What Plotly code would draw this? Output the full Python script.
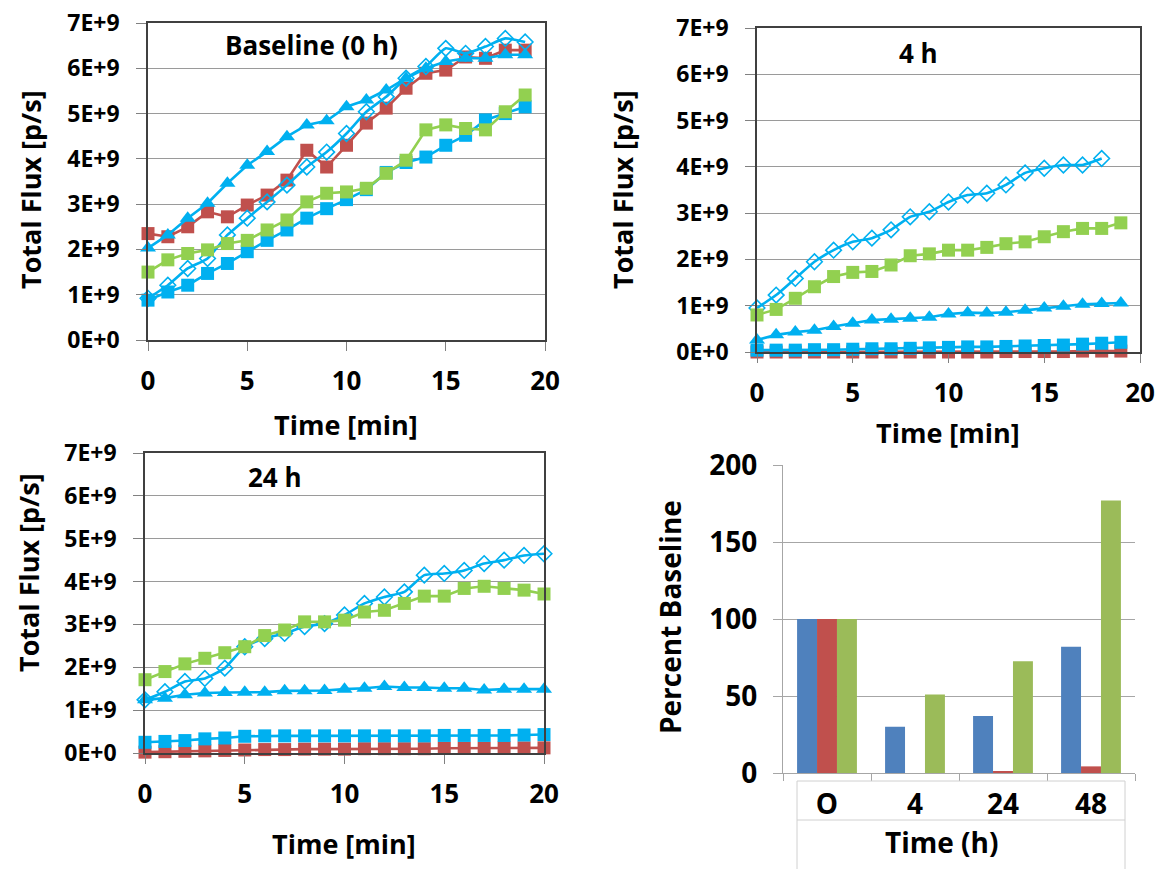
import numpy as np
import plotly.graph_objects as go

W, H = 1167, 869
FONT = "Open Sans"

# ---------------- data (flux in units of 1E+9 p/s) ----------------
minutes_20 = list(range(20))
minutes_19 = list(range(19))
minutes_21 = list(range(21))

tl_diamond = [0.92, 1.21, 1.58, 1.80, 2.32, 2.69, 3.05, 3.42, 3.82, 4.15, 4.56, 5.04, 5.37, 5.78, 6.04, 6.44, 6.33, 6.48, 6.66, 6.58]
tl_triangle = [2.03, 2.32, 2.69, 3.02, 3.46, 3.86, 4.16, 4.49, 4.75, 4.84, 5.15, 5.30, 5.52, 5.78, 6.00, 6.15, 6.22, 6.22, 6.30, 6.30]
tl_red = [2.35, 2.28, 2.50, 2.83, 2.72, 2.98, 3.20, 3.53, 4.19, 3.82, 4.30, 4.79, 5.12, 5.56, 5.89, 5.96, 6.25, 6.22, 6.40, 6.40]
tl_green = [1.50, 1.77, 1.91, 1.99, 2.13, 2.20, 2.43, 2.65, 3.05, 3.24, 3.27, 3.35, 3.68, 3.97, 4.64, 4.75, 4.67, 4.64, 5.04, 5.41]
tl_blue = [0.88, 1.06, 1.21, 1.47, 1.69, 1.95, 2.20, 2.43, 2.69, 2.90, 3.10, 3.32, 3.70, 3.92, 4.04, 4.30, 4.52, 4.86, 5.00, 5.15]

tr_diamond = [0.95, 1.23, 1.59, 1.95, 2.20, 2.38, 2.46, 2.64, 2.92, 3.03, 3.24, 3.39, 3.43, 3.61, 3.87, 3.97, 4.04, 4.04, 4.18]
tr_green = [0.80, 0.92, 1.16, 1.41, 1.63, 1.72, 1.74, 1.88, 2.08, 2.12, 2.20, 2.20, 2.26, 2.34, 2.38, 2.49, 2.60, 2.67, 2.67, 2.79]
tr_triangle = [0.26, 0.37, 0.43, 0.47, 0.55, 0.62, 0.69, 0.71, 0.73, 0.75, 0.82, 0.85, 0.84, 0.86, 0.90, 0.95, 0.99, 1.03, 1.05, 1.06]
tr_blue = [0.04, 0.04, 0.04, 0.05, 0.05, 0.06, 0.07, 0.07, 0.08, 0.09, 0.10, 0.11, 0.11, 0.12, 0.13, 0.14, 0.15, 0.17, 0.19, 0.21]
tr_red = [0.00, 0.00, 0.00, 0.00, 0.00, 0.00, 0.00, 0.00, 0.00, 0.00, 0.00, 0.00, 0.00, 0.01, 0.01, 0.01, 0.01, 0.02, 0.02, 0.02]

bl_diamond = [1.24, 1.43, 1.67, 1.74, 1.98, 2.48, 2.67, 2.79, 2.95, 3.02, 3.22, 3.49, 3.64, 3.76, 4.15, 4.19, 4.26, 4.42, 4.50, 4.61, 4.65]
bl_green = [1.71, 1.90, 2.08, 2.21, 2.34, 2.48, 2.74, 2.87, 3.06, 3.06, 3.10, 3.29, 3.33, 3.49, 3.66, 3.66, 3.84, 3.89, 3.84, 3.80, 3.71]
bl_triangle = [1.24, 1.28, 1.36, 1.40, 1.41, 1.42, 1.42, 1.45, 1.45, 1.46, 1.49, 1.51, 1.55, 1.53, 1.53, 1.51, 1.51, 1.47, 1.49, 1.49, 1.49]
bl_blue = [0.25, 0.27, 0.29, 0.33, 0.35, 0.39, 0.40, 0.40, 0.40, 0.40, 0.40, 0.40, 0.40, 0.40, 0.40, 0.41, 0.41, 0.41, 0.41, 0.42, 0.43]
bl_red = [0.02, 0.03, 0.04, 0.05, 0.06, 0.07, 0.08, 0.08, 0.09, 0.09, 0.09, 0.10, 0.10, 0.10, 0.10, 0.11, 0.11, 0.11, 0.12, 0.12, 0.12]

flux_tick_vals = [0, 1, 2, 3, 4, 5, 6, 7]
flux_tick_text = ["0E+0", "1E+9", "2E+9", "3E+9", "4E+9", "5E+9", "6E+9", "7E+9"]
min_tick_vals = [0, 5, 10, 15, 20]

bar_categories = ["O", "4", "24", "48"]
bar_blue = [100, 30, 37, 82]
bar_red = [100, 0, 1.1, 4.3]
bar_green = [100, 51, 72.5, 177]
pct_tick_vals = [0, 50, 100, 150, 200]

panel_titles = ["Baseline (0 h)", "4 h", "24 h"]

CYAN = "#00B0F0"
RED = "#C0504D"
LGREEN = "#92D050"
BAR_BLUE = "#4F81BD"
BAR_RED = "#C0504D"
BAR_GREEN = "#9BBB59"

SCALE = 1e9


def xd(a, b):
    return [a / W, b / W]


def yd(top, bottom):
    return [1 - bottom / H, 1 - top / H]


fig = go.Figure()


def add_line_panel(n, xs_full, xs_diamond, diamond, triangle, blue, red, green):
    xa = "x" if n == 1 else f"x{n}"
    ya = "y" if n == 1 else f"y{n}"
    common = dict(xaxis=xa, yaxis=ya, mode="lines+markers", cliponaxis=False, showlegend=False)
    fig.add_trace(go.Scatter(x=xs_full, y=np.array(red) * SCALE,
                             line=dict(color=RED, width=2.6),
                             marker=dict(symbol="square", size=13, color=RED), **common))
    fig.add_trace(go.Scatter(x=xs_diamond, y=np.array(diamond) * SCALE,
                             line=dict(color=CYAN, width=2.6, shape="spline", smoothing=0.5),
                             marker=dict(symbol="diamond-open", size=12, color=CYAN, line=dict(width=1.6, color=CYAN)),
                             **common))
    fig.add_trace(go.Scatter(x=xs_full, y=np.array(blue) * SCALE,
                             line=dict(color=CYAN, width=2.6),
                             marker=dict(symbol="square", size=13, color=CYAN), **common))
    fig.add_trace(go.Scatter(x=xs_full, y=np.array(triangle) * SCALE,
                             line=dict(color=CYAN, width=2.6),
                             marker=dict(symbol="triangle-up", size=14, color=CYAN), **common))
    fig.add_trace(go.Scatter(x=xs_full, y=np.array(green) * SCALE,
                             line=dict(color=LGREEN, width=2.6),
                             marker=dict(symbol="square", size=13, color=LGREEN), **common))


add_line_panel(1, minutes_20, minutes_20, tl_diamond, tl_triangle, tl_blue, tl_red, tl_green)
add_line_panel(2, minutes_20, minutes_19, tr_diamond, tr_triangle, tr_blue, tr_red, tr_green)
add_line_panel(3, minutes_21, minutes_21, bl_diamond, bl_triangle, bl_blue, bl_red, bl_green)

for vals, col in [(bar_blue, BAR_BLUE), (bar_red, BAR_RED), (bar_green, BAR_GREEN)]:
    fig.add_trace(go.Bar(x=bar_categories, y=vals, marker=dict(color=col, line=dict(width=0)),
                         xaxis="x4", yaxis="y4", showlegend=False))

line_x = dict(range=[0, 20], tickvals=min_tick_vals, ticks="outside", ticklen=9, tickwidth=1.2,
              tickcolor="#808080", showgrid=False, zeroline=False, showline=True, linecolor="#404040",
              linewidth=1.5, mirror=True, tickfont=dict(family=FONT, size=26, color="black", weight="bold"),
              ticklabelstandoff=8, automargin=False)
line_y = dict(range=[0, 7 * SCALE], tickvals=[v * SCALE for v in flux_tick_vals], ticktext=flux_tick_text,
              ticks="outside", ticklen=10, tickwidth=1.2, tickcolor="#808080", showgrid=True,
              gridcolor="#9A9A9A", gridwidth=1.2, zeroline=False, showline=True, linecolor="#404040",
              linewidth=1.5, mirror=True, tickfont=dict(family=FONT, size=23, color="black", weight="bold"),
              ticklabelstandoff=12, automargin=False)

panels = {
    1: dict(x=(148, 545), y=(23, 340)),
    2: dict(x=(757, 1140), y=(28, 352)),
    3: dict(x=(145, 544), y=(453, 753)),
}

layout = dict(width=W, height=H, margin=dict(l=0, r=0, t=0, b=0, pad=0, autoexpand=False),
              paper_bgcolor="white", plot_bgcolor="white",
              barmode="group", bargap=0.32, bargroupgap=0)

for n, p in panels.items():
    xk = "xaxis" if n == 1 else f"xaxis{n}"
    yk = "yaxis" if n == 1 else f"yaxis{n}"
    ya = "y" if n == 1 else f"y{n}"
    xa = "x" if n == 1 else f"x{n}"
    layout[xk] = dict(line_x, domain=xd(*p["x"]), anchor=ya)
    layout[yk] = dict(line_y, domain=yd(*p["y"]), anchor=xa)

layout["xaxis4"] = dict(domain=xd(783, 1135), anchor="y4", type="category", tickson="boundaries",
                        ticks="outside", ticklen=7, tickcolor="#A6A6A6", showline=True, linecolor="#A6A6A6",
                        linewidth=1.2, showgrid=False, zeroline=False,
                        tickfont=dict(family=FONT, size=28, color="black", weight="bold"),
                        ticklabelstandoff=6, automargin=False)
layout["yaxis4"] = dict(domain=yd(465, 773), anchor="x4", range=[0, 200], tickvals=pct_tick_vals,
                        ticks="outside", ticklen=9, tickcolor="#A6A6A6", showline=True, linecolor="#A6A6A6",
                        linewidth=1.2, showgrid=True, gridcolor="#A6A6A6", gridwidth=1.2, zeroline=False,
                        tickfont=dict(family=FONT, size=28, color="black", weight="bold"),
                        ticklabelstandoff=10, automargin=False)

fig.update_layout(**layout)


def ann(text, px, py, size, angle=0):
    fig.add_annotation(text=f"<b>{text}</b>", x=px / W, y=1 - py / H, xref="paper", yref="paper",
                       showarrow=False, textangle=angle, xanchor="center", yanchor="middle",
                       font=dict(family=FONT, size=size, color="black"))


# panel titles
ann(panel_titles[0], 311, 45, 26)
ann(panel_titles[1], 918, 53, 26)
ann(panel_titles[2], 275, 477, 26)

# axis titles
ann("Total Flux [p/s]", 30, 190, 27, -90)
ann("Total Flux [p/s]", 622, 190, 27, -90)
ann("Total Flux [p/s]", 28, 573, 27, -90)
ann("Time [min]", 346, 425, 27)
ann("Time [min]", 948, 432, 27)
ann("Time [min]", 344, 843, 27)
ann("Percent Baseline", 670, 617, 28, -90)
ann("Time (h)", 941, 842, 28)

# category-axis label boxes of the bar chart
box_col = "#D0D0D0"
fig.add_shape(type="rect", xref="paper", yref="paper", x0=797 / W, x1=1125 / W,
              y0=1 - 820 / H, y1=1 - 781 / H, line=dict(color=box_col, width=1))
fig.add_shape(type="line", xref="paper", yref="paper", x0=797 / W, x1=797 / W,
              y0=0, y1=1 - 820 / H, line=dict(color=box_col, width=1))
fig.add_shape(type="line", xref="paper", yref="paper", x0=1125 / W, x1=1125 / W,
              y0=0, y1=1 - 820 / H, line=dict(color=box_col, width=1))

fig.write_html("out.html", config={"displayModeBar": False},
               post_script="document.body.style.margin='0px';document.body.style.overflow='hidden';")
